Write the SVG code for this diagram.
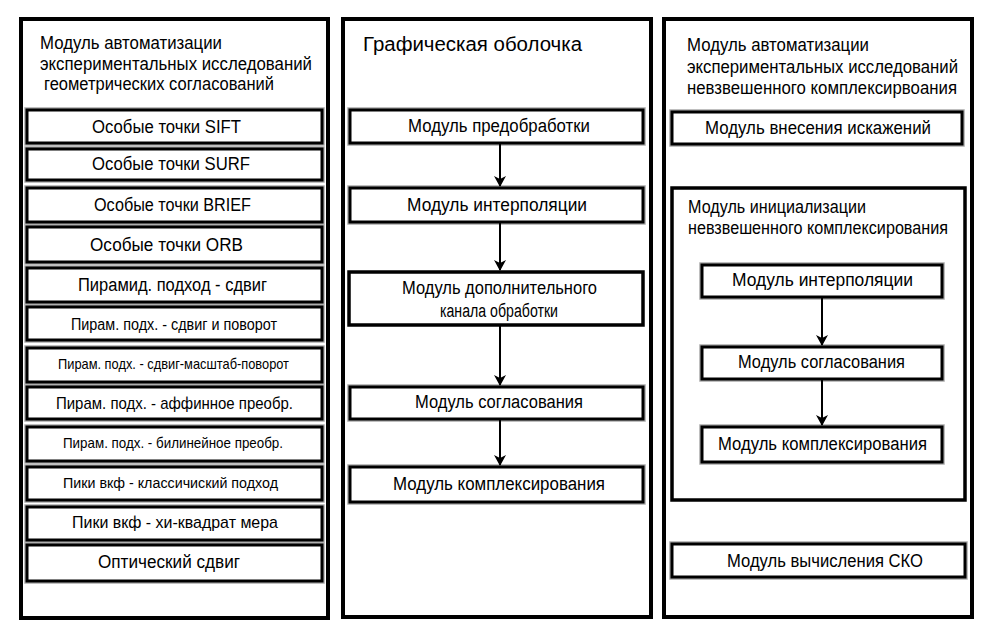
<svg xmlns="http://www.w3.org/2000/svg" width="1000" height="642" viewBox="0 0 1000 642">
<style>
text{font-family:"Liberation Sans Narrow","Liberation Sans",Arial,sans-serif;fill:#000}
.panel{fill:#fff;stroke:#000;stroke-width:4}
.frame{fill:#fff;stroke:#000;stroke-width:3.5}
.halo{fill:none;stroke:#aaa;stroke-width:5.5}
.box{fill:#fff;stroke:#000;stroke-width:3}
.conn{stroke:#000;stroke-width:2;fill:none}
</style>
<defs>
<marker id="arr" markerUnits="userSpaceOnUse" markerWidth="12" markerHeight="14" refX="10" refY="6" orient="auto">
<path d="M0,0 L11,6 L0,12 L3,6 Z" fill="#000"/>
</marker>
</defs>
<rect width="1000" height="642" fill="#fff"/>

<g id="panel-left">
<rect class="panel" x="21" y="19" width="307" height="599"/>
<text x="40" y="49" font-size="17.5" textLength="182" lengthAdjust="spacingAndGlyphs">Модуль автоматизации</text>
<text x="40" y="70" font-size="17.5" textLength="272" lengthAdjust="spacingAndGlyphs">экспериментальных исследований</text>
<text x="44" y="90" font-size="17.5" textLength="230" lengthAdjust="spacingAndGlyphs">геометрических согласований</text>
</g>

<g id="n-sift"><rect class="halo" x="27" y="110" width="295" height="33"/><rect class="box" x="27" y="110" width="295" height="33"/>
<text x="92" y="132.5" font-size="18" textLength="149" lengthAdjust="spacingAndGlyphs">Особые точки SIFT</text></g>
<g id="n-surf"><rect class="halo" x="27" y="149" width="295" height="31"/><rect class="box" x="27" y="149" width="295" height="31"/>
<text x="92" y="170" font-size="18" textLength="158" lengthAdjust="spacingAndGlyphs">Особые точки SURF</text></g>
<g id="n-brief"><rect class="halo" x="27" y="188" width="295" height="34"/><rect class="box" x="27" y="188" width="295" height="34"/>
<text x="94" y="211" font-size="18" textLength="157" lengthAdjust="spacingAndGlyphs">Особые точки BRIEF</text></g>
<g id="n-orb"><rect class="halo" x="27" y="227" width="295" height="35"/><rect class="box" x="27" y="227" width="295" height="35"/>
<text x="90" y="251" font-size="18" textLength="153" lengthAdjust="spacingAndGlyphs">Особые точки ORB</text></g>
<g id="n-pyr1"><rect class="halo" x="27" y="268" width="295" height="34"/><rect class="box" x="27" y="268" width="295" height="34"/>
<text x="78" y="291" font-size="18" textLength="189" lengthAdjust="spacingAndGlyphs">Пирамид. подход - сдвиг</text></g>
<g id="n-pyr2"><rect class="halo" x="27" y="307" width="295" height="33"/><rect class="box" x="27" y="307" width="295" height="33"/>
<text x="71" y="330" font-size="16" textLength="206" lengthAdjust="spacingAndGlyphs">Пирам. подх. - сдвиг и поворот</text></g>
<g id="n-pyr3"><rect class="halo" x="27" y="348" width="295" height="34"/><rect class="box" x="27" y="348" width="295" height="34"/>
<text x="58" y="369" font-size="14.5" textLength="231" lengthAdjust="spacingAndGlyphs">Пирам. подх. - сдвиг-масштаб-поворот</text></g>
<g id="n-pyr4"><rect class="halo" x="27" y="387" width="295" height="32"/><rect class="box" x="27" y="387" width="295" height="32"/>
<text x="56" y="409" font-size="17" textLength="237" lengthAdjust="spacingAndGlyphs">Пирам. подх. - аффинное преобр.</text></g>
<g id="n-pyr5"><rect class="halo" x="27" y="427" width="295" height="34"/><rect class="box" x="27" y="427" width="295" height="34"/>
<text x="63" y="448" font-size="15" textLength="220" lengthAdjust="spacingAndGlyphs">Пирам. подх. - билинейное преобр.</text></g>
<g id="n-peak1"><rect class="halo" x="27" y="467" width="295" height="33"/><rect class="box" x="27" y="467" width="295" height="33"/>
<text x="63" y="488" font-size="15.5" textLength="215" lengthAdjust="spacingAndGlyphs">Пики вкф - классичиский подход</text></g>
<g id="n-peak2"><rect class="halo" x="27" y="507" width="295" height="33"/><rect class="box" x="27" y="507" width="295" height="33"/>
<text x="72" y="528" font-size="17" textLength="206" lengthAdjust="spacingAndGlyphs">Пики вкф - хи-квадрат мера</text></g>
<g id="n-optic"><rect class="halo" x="27" y="545" width="295" height="36"/><rect class="box" x="27" y="545" width="295" height="36"/>
<text x="98" y="568" font-size="18" textLength="142" lengthAdjust="spacingAndGlyphs">Оптический сдвиг</text></g>

<g id="panel-center">
<rect class="panel" x="343" y="19" width="308" height="598"/>
<text x="363" y="51" font-size="20" textLength="219" lengthAdjust="spacingAndGlyphs">Графическая оболочка</text>
</g>
<g id="n-pre"><rect class="halo" x="350" y="110" width="293" height="33"/><rect class="box" x="350" y="110" width="293" height="33"/>
<text x="408" y="132" font-size="18" textLength="182" lengthAdjust="spacingAndGlyphs">Модуль предобработки</text></g>
<g id="n-interp"><rect class="halo" x="350" y="188" width="293" height="34"/><rect class="box" x="350" y="188" width="293" height="34"/>
<text x="407" y="211" font-size="18" textLength="180" lengthAdjust="spacingAndGlyphs">Модуль интерполяции</text></g>
<g id="n-extra"><rect class="frame" x="349" y="272" width="294" height="53"/>
<text x="402" y="294" font-size="18" textLength="195" lengthAdjust="spacingAndGlyphs">Модуль дополнительного</text>
<text x="440" y="317" font-size="18" textLength="118" lengthAdjust="spacingAndGlyphs">канала обработки</text></g>
<g id="n-match"><rect class="halo" x="350" y="387" width="293" height="32"/><rect class="box" x="350" y="387" width="293" height="32"/>
<text x="415" y="408" font-size="18" textLength="168" lengthAdjust="spacingAndGlyphs">Модуль согласования</text></g>
<g id="n-fuse"><rect class="halo" x="350" y="467" width="293" height="35"/><rect class="box" x="350" y="467" width="293" height="35"/>
<text x="393" y="490" font-size="18" textLength="212" lengthAdjust="spacingAndGlyphs">Модуль комплексирования</text></g>

<g id="panel-right">
<rect class="panel" x="664" y="19" width="308" height="598"/>
<text x="687" y="51" font-size="17.5" textLength="182" lengthAdjust="spacingAndGlyphs">Модуль автоматизации</text>
<text x="687" y="73" font-size="17.5" textLength="271" lengthAdjust="spacingAndGlyphs">экспериментальных исследований</text>
<text x="687" y="94" font-size="17.5" textLength="270" lengthAdjust="spacingAndGlyphs">невзвешенного комплексирвоания</text>
</g>
<g id="n-distort"><rect class="halo" x="672" y="112" width="290" height="32"/><rect class="box" x="672" y="112" width="290" height="32"/>
<text x="705" y="134" font-size="18" textLength="226" lengthAdjust="spacingAndGlyphs">Модуль внесения искажений</text></g>
<g id="n-init"><rect class="frame" x="672" y="188" width="293" height="312"/>
<text x="688" y="213" font-size="17.5" textLength="178" lengthAdjust="spacingAndGlyphs">Модуль инициализации</text>
<text x="688" y="234" font-size="17.5" textLength="260" lengthAdjust="spacingAndGlyphs">невзвешенного комплексирования</text></g>
<g id="n-rinterp"><rect class="halo" x="702" y="265" width="240" height="32"/><rect class="box" x="702" y="265" width="240" height="32"/>
<text x="732" y="286" font-size="18" textLength="181" lengthAdjust="spacingAndGlyphs">Модуль интерполяции</text></g>
<g id="n-rmatch"><rect class="halo" x="702" y="347" width="240" height="32"/><rect class="box" x="702" y="347" width="240" height="32"/>
<text x="738" y="368" font-size="18" textLength="167" lengthAdjust="spacingAndGlyphs">Модуль согласования</text></g>
<g id="n-rfuse"><rect class="halo" x="702" y="427" width="240" height="35"/><rect class="box" x="702" y="427" width="240" height="35"/>
<text x="718" y="450" font-size="18" textLength="209" lengthAdjust="spacingAndGlyphs">Модуль комплексирования</text></g>
<g id="n-rmse"><rect class="halo" x="672" y="544" width="293" height="33"/><rect class="box" x="672" y="544" width="293" height="33"/>
<text x="727" y="567" font-size="18" textLength="196" lengthAdjust="spacingAndGlyphs">Модуль вычисления СКО</text></g>

<g id="connectors">
<line class="conn" x1="500" y1="144" x2="500" y2="186" marker-end="url(#arr)"/>
<line class="conn" x1="500" y1="223" x2="500" y2="270" marker-end="url(#arr)"/>
<line class="conn" x1="500" y1="326" x2="500" y2="385" marker-end="url(#arr)"/>
<line class="conn" x1="500" y1="420" x2="500" y2="465" marker-end="url(#arr)"/>
<line class="conn" x1="822" y1="298" x2="822" y2="345" marker-end="url(#arr)"/>
<line class="conn" x1="822" y1="380" x2="822" y2="425" marker-end="url(#arr)"/>
</g>
</svg>
